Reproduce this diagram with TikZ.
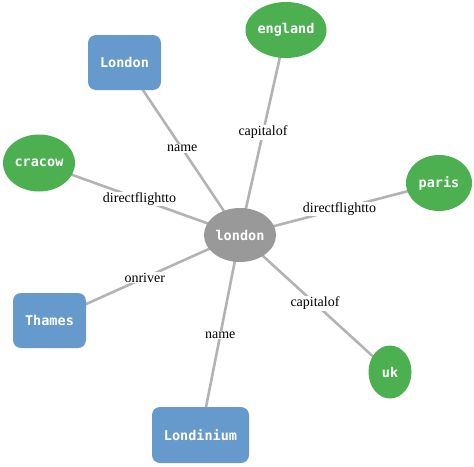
\documentclass[tikz,border=0pt]{standalone}
\usepackage{fontspec}
\setmainfont{Liberation Serif}
\newfontfamily\monofont{DejaVu Sans Mono}
\usetikzlibrary{shapes.geometric,backgrounds}

\definecolor{entblue}{HTML}{6699CC}
\definecolor{litgreen}{HTML}{4CAF50}
\definecolor{hubgray}{HTML}{999999}
\definecolor{relgray}{HTML}{B3B3B3}

\begin{document}
\begin{tikzpicture}[x=1pt, y=-1pt,
    nd/.style={inner sep=0pt, text=white, font=\monofont\bfseries\fontsize{13.5}{15}\selectfont},
    ent/.style={nd, rectangle, rounded corners=8pt, fill=entblue},
    lit/.style={nd, ellipse, fill=litgreen},
    hub/.style={nd, ellipse, fill=hubgray},
    rel/.style={line width=2.6pt, relgray},
    lbl/.style={midway, fill=white, inner sep=1pt, text=black, font=\fontsize{14}{16}\selectfont}
]
\useasboundingbox (0,0) rectangle (474,466);

\node[hub, minimum width=72pt, minimum height=54pt] (ldn) at (240,235) {london};
\node[ent, minimum width=73pt, minimum height=55pt] (lname) at (124.5,62.5) {London};
\node[lit, minimum width=81pt, minimum height=56pt] (eng) at (286,30) {england};
\node[lit, minimum width=72pt, minimum height=57pt] (cra) at (39,163) {cracow};
\node[lit, minimum width=66pt, minimum height=56pt] (par) at (439,183) {paris};
\node[ent, minimum width=73pt, minimum height=55pt] (tha) at (49.5,320.5) {Thames};
\node[lit, minimum width=43pt, minimum height=53pt] (uk) at (390,372) {uk};
\node[ent, minimum width=97pt, minimum height=56pt] (lnd) at (200.5,435) {Londinium};

\begin{scope}[on background layer]
\draw[rel] (ldn.center) -- node[lbl] {name} (lname.center);
\draw[rel] (ldn.center) -- node[lbl] {capitalof} (eng.center);
\draw[rel] (ldn.center) -- node[lbl] {directflightto} (cra.center);
\draw[rel] (ldn.center) -- node[lbl] {directflightto} (par.center);
\draw[rel] (ldn.center) -- node[lbl] {onriver} (tha.center);
\draw[rel] (ldn.center) -- node[lbl] {capitalof} (uk.center);
\draw[rel] (ldn.center) -- node[lbl] {name} (lnd.center);
\end{scope}
\end{tikzpicture}
\end{document}
